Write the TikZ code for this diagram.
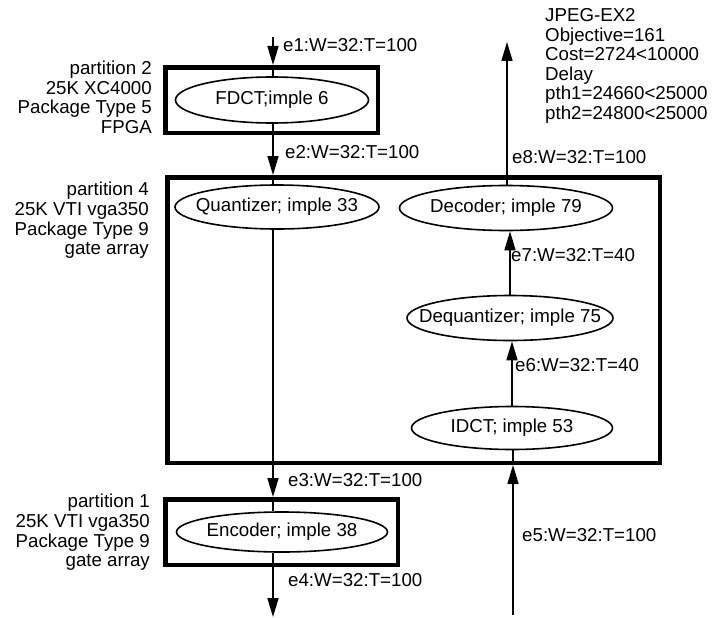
\documentclass[tikz,border=0pt]{standalone}
\usepackage{fontspec}
\setmainfont{Liberation Sans}
\usetikzlibrary{arrows.meta,shapes.geometric,calc}
\newcommand{\zwbox}[1]{\makebox[0pt]{#1}}
\begin{document}
\begin{tikzpicture}[x=1pt,y=-1pt,
  txt/.style={font=\fontsize{18.7}{19.6}\selectfont, inner sep=0pt},
  part/.style={draw, line width=4.5pt, rectangle, inner sep=0pt},
  blk/.style={draw, ellipse, line width=1.6pt, inner sep=0pt, txt},
  edge/.style={line width=1.6pt},
  arr/.style={edge, -{Triangle[length=19pt,width=11pt]}},
  lbl/.style={txt, anchor=west},
  plabel/.style={txt, anchor=east, align=right}]
\useasboundingbox (0,0) rectangle (717,618);
% partitions
\node[part, minimum width=212.5pt, minimum height=65.5pt] (p2) at (271.5,100) {};
\node[part, minimum width=492.5pt, minimum height=285.5pt] (p4) at (413.5,320) {};
\node[part, minimum width=232.5pt, minimum height=65.5pt] (p1) at (281.5,532) {};
% blocks
\node[blk, minimum width=193pt, minimum height=46pt] (fdct) at (272,100) {\zwbox{FDCT;imple 6}};
\node[blk, minimum width=204pt, minimum height=44pt] (quant) at (277,207) {\zwbox{Quantizer; imple 33}};
\node[blk, minimum width=213pt, minimum height=45pt] (dec) at (506,208) {\zwbox{Decoder; imple 79}};
\node[blk, minimum width=206pt, minimum height=45pt] (deq) at (510,318) {\zwbox{Dequantizer; imple 75}};
\node[blk, minimum width=201pt, minimum height=43pt] (idct) at (512,428) {\zwbox{IDCT; imple 53}};
\node[blk, minimum width=211pt, minimum height=40pt] (enc) at (282,532) {\zwbox{Encoder; imple 38}};
% free ends
\coordinate (e1s) at (273,37);
\coordinate (e4e) at (273,617);
\coordinate (e5s) at (513,615);
\coordinate (e8e) at (507,42);
% left column edges
\draw[arr] (e1s) -- (e1s |- p2.north);
\draw[edge] (e1s |- p2.north) -- (e1s |- fdct.north);
\draw[arr] (e1s |- fdct.south) -- (e1s |- p4.north);
\draw[edge] (e1s |- p4.north) -- (e1s |- quant.north);
\draw[arr] (e1s |- quant.south) -- (e1s |- p1.north);
\draw[edge] (e1s |- p1.north) -- (e1s |- enc.north);
\draw[arr] (e1s |- enc.south) -- (e4e);
% right column edges
\draw[arr] (e5s) -- (e5s |- p4.south);
\draw[edge] (e5s |- p4.south) -- (e5s |- idct.south);
\draw[arr] (idct.north) -- (idct.north |- deq.south);
\draw[arr] (deq.north) -- (deq.north |- dec.south);
\draw[arr] (e8e |- dec.north) -- (e8e);
% edge labels
\node[lbl] (l1) at (283,45) {e1:W=32:T=100};
\node[lbl] (l2) at (285,152) {e2:W=32:T=100};
\node[lbl] (l3) at (288,480) {e3:W=32:T=100};
\node[lbl] (l4) at (288,580) {e4:W=32:T=100};
\node[lbl] (l5) at (522,535) {e5:W=32:T=100};
\node[lbl] (l6) at (515,365) {e6:W=32:T=40};
\node[lbl] (l7) at (511,255) {e7:W=32:T=40};
\node[lbl] (l8) at (512,157) {e8:W=32:T=100};
% partition labels
\node[plabel] (t2) at (152,97.5) {partition 2\\25K XC4000\\Package Type 5\\FPGA};
\node[plabel] (t4) at (149,220.5) {partition 4\\25K VTI vga350\\Package Type 9\\gate array};
\node[plabel] (t1) at (150,532.5) {partition 1\\25K VTI vga350\\Package Type 9\\gate array};
% summary
\node[txt, anchor=west, align=left] (info) at (545,66) {JPEG-EX2\\Objective=161\\Cost=2724<10000\\Delay\\pth1=24660<25000\\pth2=24800<25000};
\end{tikzpicture}
\end{document}
